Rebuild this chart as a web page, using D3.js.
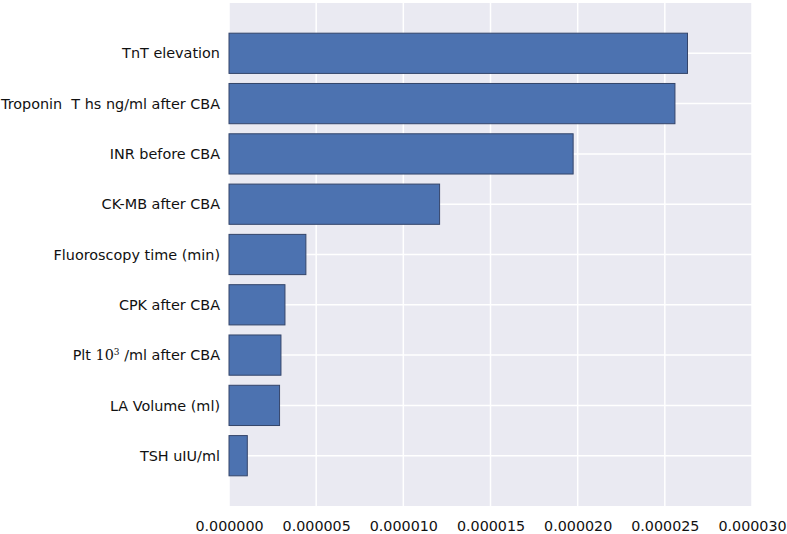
<!DOCTYPE html>
<html>
<head>
<meta charset="utf-8">
<script src="https://cdn.jsdelivr.net/npm/d3@7"></script>
<style>
  body { margin: 0; background: #fff; }
  svg { display: block; font-family: 'DejaVu Sans', sans-serif; }
</style>
</head>
<body>
<div id="chart"></div>
<script>
const features = [
  'TnT elevation',
  'Troponin  T hs ng/ml after CBA',
  'INR before CBA',
  'CK-MB after CBA',
  'Fluoroscopy time (min)',
  'CPK after CBA',
  'Plt 10^3 /ml after CBA',
  'LA Volume (ml)',
  'TSH uIU/ml'
]
const importance = [2.63e-5, 2.558e-5, 1.974e-5, 1.208e-5, 4.41e-6, 3.21e-6, 2.98e-6, 2.9e-6, 1.05e-6]
const xTicks = [0, 0.000005, 0.00001, 0.000015, 0.00002, 0.000025, 0.00003]

const width = 787
const height = 534
const margin = { top: 3, right: 35, bottom: 28, left: 229 }

const svg = d3.select('#chart').append('svg')
  .attr('width', width)
  .attr('height', height)

const x = d3.scaleLinear()
  .domain([0, 0.00003])
  .range([margin.left, width - margin.right])

const y = d3.scaleBand()
  .domain(features)
  .range([margin.top, height - margin.bottom])
  .paddingInner(0.2)
  .paddingOuter(0.6)

// background
svg.append('rect')
  .attr('x', margin.left)
  .attr('y', margin.top)
  .attr('width', width - margin.right - margin.left)
  .attr('height', height - margin.bottom - margin.top)
  .attr('fill', '#eaeaf2')

// grid
svg.append('g')
  .selectAll('line')
  .data(xTicks).enter()
  .append('line')
  .attr('x1', d => x(d))
  .attr('x2', d => x(d))
  .attr('y1', margin.top)
  .attr('y2', height - margin.bottom)
  .attr('stroke', '#fff')
  .attr('stroke-width', 1.5)

svg.append('g')
  .selectAll('line')
  .data(features).enter()
  .append('line')
  .attr('x1', margin.left)
  .attr('x2', width - margin.right)
  .attr('y1', d => y(d) + y.bandwidth() / 2)
  .attr('y2', d => y(d) + y.bandwidth() / 2)
  .attr('stroke', '#fff')
  .attr('stroke-width', 1.5)

// bars
svg.append('g')
  .selectAll('rect')
  .data(features.map((f, i) => ({ f, v: importance[i] }))).enter()
  .append('rect')
  .attr('x', x(0))
  .attr('y', d => y(d.f))
  .attr('width', d => x(d.v) - x(0))
  .attr('height', y.bandwidth())
  .attr('fill', '#4c72b0')
  .attr('stroke', '#34456a')
  .attr('stroke-width', 1)

// x axis
const xAxis = svg.append('g')
  .attr('transform', `translate(0,${height - margin.bottom})`)
  .call(d3.axisBottom(x).tickValues(xTicks).tickFormat(d3.format('.6f')).tickSize(0).tickPadding(15))
xAxis.select('.domain').remove()
xAxis.selectAll('text')
  .attr('font-size', 14.3)
  .attr('font-family', 'DejaVu Sans, sans-serif')
  .attr('fill', '#111')

// y axis labels
const labels = svg.append('g')
  .selectAll('text')
  .data(features).enter()
  .append('text')
  .attr('x', margin.left - 9)
  .attr('y', d => y(d) + y.bandwidth() / 2)
  .attr('dy', '0.36em')
  .attr('text-anchor', 'end')
  .attr('font-size', 14.4)
  .attr('fill', '#111')
  .style('white-space', 'pre')

labels.each(function (d) {
  const t = d3.select(this)
  if (d.includes('10^3')) {
    const parts = d.split('10^3')
    t.append('tspan').text(parts[0])
    t.append('tspan').attr('font-family', 'DejaVu Serif, serif').text('10')
    t.append('tspan').attr('font-family', 'DejaVu Serif, serif').attr('font-size', 9).attr('dy', '-0.6em').text('3')
    t.append('tspan').attr('dy', '0.35em').text(' ' + parts[1].trim())
  } else {
    t.text(d)
  }
})
</script>
</body>
</html>
